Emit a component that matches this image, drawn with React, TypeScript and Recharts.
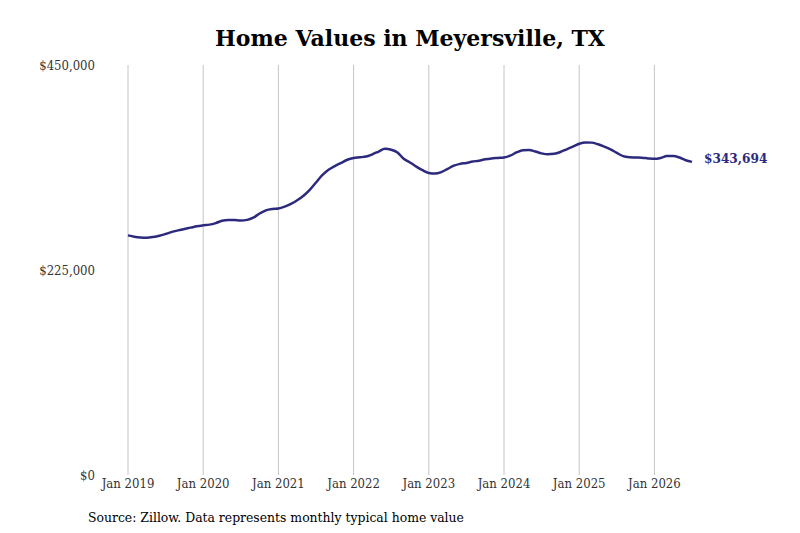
import React from "react";
import { LineChart, Line, XAxis, YAxis, ReferenceLine } from "recharts";

// monthly typical home value, Jan 2019 .. Jul 2026
const values = [
  263000, 261500, 260700, 260500, 261200, 262500, 264500, 266800, 268500, 270000, 271500, 273000,
  274000, 274800, 276500, 279000, 280000, 279800, 279300, 280000, 282500, 287000, 290500, 292000,
  292500, 294500, 297500, 301500, 306500, 313000, 321000, 329000, 335000, 339000, 342500, 346000,
  348000, 348700, 349500, 352000, 355000, 358000, 357000, 354000, 347000, 343000, 338500, 334500,
  331500, 330800, 332500, 336000, 339500, 341500, 342500, 344000, 345000, 346500, 347500, 348000,
  348500, 350500, 354000, 356500, 356800, 355000, 353000, 352000, 352500, 354500, 357500, 360500,
  363500, 365000, 364800, 363000, 360500, 357500, 353500, 350000, 348800, 348500, 348200, 347500,
  347000, 348000, 350000, 350200, 348500, 345500, 343694,
];

const yearTicks = [0, 12, 24, 36, 48, 60, 72, 84];
const yearLabels = ["Jan 2019", "Jan 2020", "Jan 2021", "Jan 2022", "Jan 2023", "Jan 2024", "Jan 2025", "Jan 2026"];
const valueTicks = [0, 225000, 450000];

const data = values.map((v, i) => ({ m: i, value: v }));

const LINE = "#2d2a7e";
const FONT = "'DejaVu Serif Condensed', 'DejaVu Serif', serif";

const fmt = (v: number) => "$" + v.toLocaleString("en-US");

const EndLabel = (props: any) => {
  const { x, y, index } = props;
  if (index !== values.length - 1) return null;
  return (
    <text
      x={x + 12}
      y={y - 4}
      fill={LINE}
      fontFamily={FONT}
      fontWeight="bold"
      fontSize={13.5}
      dominantBaseline="central"
    >
      {fmt(values[index])}
    </text>
  );
};

export default function App() {
  return (
    <div style={{ position: "absolute", left: 0, top: 0, width: 800, height: 533, background: "#fff" }}>
      <div
        style={{
          position: "absolute",
          left: 0,
          top: 24,
          width: 820,
          textAlign: "center",
          fontFamily: "'DejaVu Serif', serif",
          fontWeight: "bold",
          fontSize: 22,
          lineHeight: "28px",
          color: "#000",
        }}
      >
        Home Values in Meyersville, TX
      </div>
      <LineChart
        width={800}
        height={533}
        data={data}
        margin={{ top: 65, right: 108, bottom: 0, left: 68 }}
      >
        {yearTicks.map((t) => (
          <ReferenceLine key={t} x={t} stroke="#c4c4c4" strokeWidth={1} />
        ))}
        <XAxis
          dataKey="m"
          type="number"
          domain={[0, 90]}
          ticks={yearTicks}
          tickFormatter={(v: number) => yearLabels[yearTicks.indexOf(v)]}
          axisLine={false}
          tickLine={false}
          tickSize={0}
          tickMargin={4}
          height={58}
          tick={{ fill: "#333", fontFamily: FONT, fontSize: 13 }}
        />
        <YAxis
          domain={[0, 450000]}
          ticks={valueTicks}
          tickFormatter={fmt}
          axisLine={false}
          tickLine={false}
          tickSize={0}
          tickMargin={33}
          width={60}
          tick={{ fill: "#333", fontFamily: FONT, fontSize: 13 }}
        />
        <Line
          type="monotone"
          dataKey="value"
          stroke={LINE}
          strokeWidth={2.5}
          dot={false}
          isAnimationActive={false}
          label={<EndLabel />}
        />
      </LineChart>
      <div
        style={{
          position: "absolute",
          left: 88,
          top: 508,
          fontFamily: FONT,
          fontSize: 13.8,
          lineHeight: "18px",
          color: "#000",
        }}
      >
        Source: Zillow. Data represents monthly typical home value
      </div>
    </div>
  );
}
